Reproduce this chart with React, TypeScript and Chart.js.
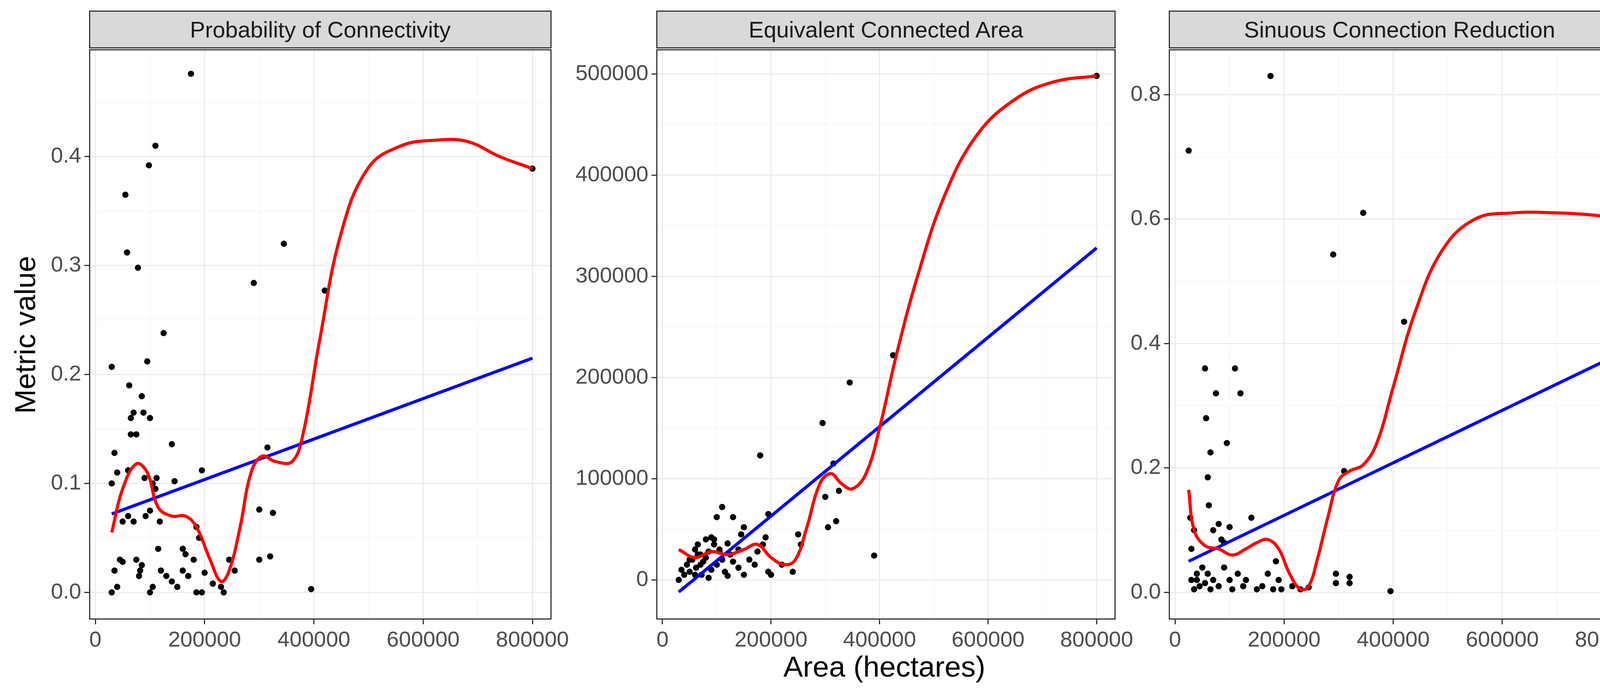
import React, { useRef, useEffect } from 'react'
import { Chart, registerables } from 'chart.js'

Chart.register(...registerables)

// areas in thousands of hectares
const pocX = [30, 35, 30, 40, 45, 35, 40, 30, 50, 55, 58, 60, 62, 65, 65, 70, 75, 78, 80, 82, 85, 88, 90, 92, 95, 98, 100, 100, 105, 110, 112, 115, 118, 125, 130, 140, 145, 150, 160, 165, 175, 180, 185, 190, 195, 185, 195, 200, 215, 230, 235, 245, 255, 290, 300, 300, 315, 320, 325, 345, 395, 420, 800, 60, 70, 75, 50, 120, 140, 100, 160, 170, 85, 105, 110]
const pocY = [0.207, 0.128, 0.1, 0.11, 0.03, 0.02, 0.005, 0, 0.028, 0.365, 0.312, 0.112, 0.19, 0.16, 0.145, 0.165, 0.145, 0.298, 0.015, 0.02, 0.18, 0.165, 0.105, 0.07, 0.212, 0.392, 0.16, 0.075, 0.005, 0.41, 0.105, 0.04, 0.065, 0.238, 0.015, 0.136, 0.102, 0.005, 0.04, 0.035, 0.476, 0.03, 0.06, 0.05, 0.112, 0, 0, 0.018, 0.008, 0.005, 0, 0.03, 0.02, 0.284, 0.076, 0.03, 0.133, 0.033, 0.073, 0.32, 0.003, 0.277, 0.389, 0.07, 0.065, 0.03, 0.065, 0.02, 0.01, 0, 0.02, 0.015, 0.025, 0.1, 0.095]
const pocSmoothX = [30, 50, 75, 95, 115, 140, 165, 185, 210, 230, 245, 265, 285, 305, 330, 360, 380, 410, 450, 500, 560, 620, 680, 740, 800]
const pocSmoothY = [0.055, 0.095, 0.118, 0.11, 0.078, 0.07, 0.07, 0.06, 0.03, 0.01, 0.02, 0.06, 0.11, 0.125, 0.12, 0.12, 0.145, 0.23, 0.33, 0.39, 0.41, 0.415, 0.414, 0.4, 0.389]
const pocLmX = [30, 800]
const pocLmY = [0.072, 0.215]

// equivalent connected area, thousands
const ecaX = [30, 35, 40, 45, 50, 55, 60, 62, 65, 70, 72, 75, 80, 85, 90, 95, 100, 105, 110, 115, 120, 125, 130, 140, 145, 150, 160, 170, 180, 185, 190, 195, 200, 220, 240, 250, 255, 295, 300, 305, 315, 320, 325, 345, 390, 425, 800, 110, 100, 130, 150, 195, 60, 70, 80, 90, 120, 140, 175, 50, 65, 85, 95, 105]
const ecaY = [0, 10, 5, 15, 8, 20, 30, 12, 35, 25, 5, 18, 40, 28, 10, 35, 15, 30, 20, 8, 36, 25, 18, 12, 45, 5, 20, 15, 123, 35, 42, 8, 5, 15, 8, 45, 35, 155, 82, 52, 115, 58, 88, 195, 24, 222, 498, 72, 62, 62, 52, 65, 5, 15, 22, 42, 4, 30, 28, 20, 25, 2, 40, 28]
const ecaSmoothX = [30, 60, 90, 120, 150, 175, 200, 225, 245, 265, 290, 310, 330, 350, 375, 400, 430, 470, 520, 580, 650, 720, 800]
const ecaSmoothY = [30, 22, 28, 25, 30, 35, 22, 15, 20, 50, 95, 105, 95, 90, 105, 150, 220, 300, 380, 440, 475, 492, 498]
const ecaLmX = [30, 800]
const ecaLmY = [-12, 328]

// sinuous connection reduction
const scrX = [25, 28, 30, 35, 40, 55, 57, 60, 62, 65, 70, 75, 80, 85, 90, 95, 100, 110, 120, 140, 175, 185, 290, 295, 310, 320, 345, 395, 420, 800, 30, 35, 40, 45, 50, 55, 60, 65, 70, 80, 90, 100, 105, 115, 125, 130, 150, 160, 170, 180, 190, 195, 215, 230, 245, 295, 320]
const scrY = [0.71, 0.12, 0.07, 0.1, 0.02, 0.36, 0.28, 0.185, 0.14, 0.225, 0.1, 0.32, 0.11, 0.085, 0.08, 0.24, 0.105, 0.36, 0.32, 0.12, 0.83, 0.05, 0.543, 0.03, 0.195, 0.025, 0.61, 0.002, 0.435, 0.605, 0.02, 0.005, 0.03, 0.01, 0.04, 0.015, 0.03, 0.005, 0.02, 0.01, 0.04, 0.02, 0.005, 0.03, 0.01, 0.02, 0.005, 0.01, 0.03, 0.005, 0.02, 0.005, 0.01, 0.005, 0.008, 0.015, 0.015]
const scrSmoothX = [25, 35, 55, 80, 105, 130, 150, 170, 190, 210, 230, 245, 260, 280, 300, 320, 345, 370, 400, 440, 490, 550, 620, 700, 760, 800]
const scrSmoothY = [0.165, 0.1, 0.075, 0.07, 0.06, 0.07, 0.08, 0.085, 0.07, 0.03, 0.005, 0.01, 0.05, 0.12, 0.18, 0.195, 0.205, 0.24, 0.33, 0.45, 0.55, 0.6, 0.61, 0.61, 0.607, 0.603]
const scrLmX = [25, 800]
const scrLmY = [0.05, 0.377]

const FONT = '"Liberation Sans", Arial, sans-serif'
const YW = 260
const XH = 110
const PAD_R = 160
const PAD_T = 40
const PLOT_TOP = 126
const PLOT_BOTTOM = 1586

const pts = (xs: number[], ys: number[], ys2 = 1) => xs.map((x, i) => ({ x: x * 1000, y: ys[i] * ys2 }))

type PanelProps = {
  title: string
  left: number
  right: number
  yMin: number
  yMax: number
  yStep: number
  decimals: number
  scatter: { x: number; y: number }[]
  smooth: { x: number; y: number }[]
  lm: { x: number; y: number }[]
}

const Panel = (p: PanelProps) => {
  const ref = useRef<HTMLCanvasElement>(null)
  const plotW = p.right - p.left
  const plotH = PLOT_BOTTOM - PLOT_TOP
  const cw = YW + plotW + PAD_R
  const ch = PAD_T + plotH + XH

  useEffect(() => {
    if (!ref.current) return
    const isMajor = (v: number, step: number) => Math.abs(v / step - Math.round(v / step)) < 1e-6
    const mkTicks = (min: number, max: number, step: number) => {
      const out: { value: number }[] = []
      const h = step / 2
      for (let v = Math.ceil(min / h) * h; v <= max + 1e-9; v += h) out.push({ value: Math.round(v * 1e6) / 1e6 })
      return out
    }
    const axis = (min: number, max: number, step: number, isX: boolean, dec: number) => ({
      type: 'linear' as const,
      min,
      max,
      afterBuildTicks: (s: any) => { s.ticks = mkTicks(min, max, step) },
      afterFit: (s: any) => { if (isX) s.height = XH; else s.width = YW },
      border: { display: false },
      grid: {
        color: (c: any) => (isMajor(c.tick.value, step) ? '#EBEBEB' : '#F4F4F4'),
        lineWidth: (c: any) => (isMajor(c.tick.value, step) ? 3 : 1.5),
        tickColor: (c: any) => (isMajor(c.tick.value, step) ? '#333333' : 'rgba(0,0,0,0)'),
        tickLength: 12,
        drawTicks: true,
      },
      ticks: {
        autoSkip: false,
        maxRotation: 0,
        padding: 8,
        color: '#4D4D4D',
        font: { family: FONT, size: 56 },
        callback: (v: any) => (isMajor(Number(v), step) ? Number(v).toFixed(dec) : ''),
      },
    })
    const chart = new Chart(ref.current, {
      type: 'scatter',
      data: {
        datasets: [
          { data: p.smooth, showLine: true, borderColor: '#FF0000', borderWidth: 8, pointRadius: 0, tension: 0.4, order: 1 },
          { data: p.lm, showLine: true, borderColor: '#0000FF', borderWidth: 8, pointRadius: 0, order: 2 },
          { data: p.scatter, backgroundColor: '#000000', borderWidth: 0, pointRadius: 8, order: 3 },
        ] as any,
      },
      options: {
        animation: false,
        responsive: false,
        devicePixelRatio: 1,
        layout: { padding: { top: PAD_T, right: PAD_R, left: 0, bottom: 0 } },
        plugins: { legend: { display: false }, tooltip: { enabled: false } },
        scales: {
          x: axis(-11500, 835000, 200000, true, 0),
          y: axis(p.yMin, p.yMax, p.yStep, false, p.decimals),
        },
      },
    })
    return () => chart.destroy()
  }, [])

  return (
    <>
      <canvas ref={ref} width={cw} height={ch} style={{ position: 'absolute', left: p.left - YW, top: PLOT_TOP - PAD_T, width: cw, height: ch }} />
      <div style={{ position: 'absolute', left: p.left, top: PLOT_TOP, width: plotW, height: plotH, border: '3px solid #333333', boxSizing: 'border-box', pointerEvents: 'none' }} />
      <div style={{ position: 'absolute', left: p.left, top: 27, width: plotW, height: 97, background: '#D9D9D9', border: '3px solid #333333', boxSizing: 'border-box', display: 'flex', alignItems: 'center', justifyContent: 'center', fontFamily: FONT, fontSize: 58, color: '#1A1A1A' }}>
        {p.title}
      </div>
    </>
  )
}

export default function App() {
  useEffect(() => { document.body.style.margin = '0' }, [])
  return (
    <div style={{ position: 'relative', width: 4200, height: 1779, background: '#FFFFFF', overflow: 'hidden' }}>
      <Panel title="Probability of Connectivity" left={228} right={1412} yMin={-0.025} yMax={0.498} yStep={0.1} decimals={1}
        scatter={pts(pocX, pocY)} smooth={pts(pocSmoothX, pocSmoothY)} lm={pts(pocLmX, pocLmY)} />
      <Panel title="Equivalent Connected Area" left={1680} right={2856} yMin={-39256} yMax={523760} yStep={100000} decimals={0}
        scatter={pts(ecaX, ecaY, 1000)} smooth={pts(ecaSmoothX, ecaSmoothY, 1000)} lm={pts(ecaLmX, ecaLmY, 1000)} />
      <Panel title="Sinuous Connection Reduction" left={2992} right={4174} yMin={-0.0437} yMax={0.872} yStep={0.2} decimals={1}
        scatter={pts(scrX, scrY)} smooth={pts(scrSmoothX, scrSmoothY)} lm={pts(scrLmX, scrLmY)} />
      <div style={{ position: 'absolute', left: 64, top: 857, transform: 'translate(-50%, -50%) rotate(-90deg)', fontFamily: FONT, fontSize: 75, whiteSpace: 'nowrap' }}>
        Metric value
      </div>
      <div style={{ position: 'absolute', left: 2264, top: 1706, transform: 'translate(-50%, -50%)', fontFamily: FONT, fontSize: 75, whiteSpace: 'nowrap' }}>
        Area (hectares)
      </div>
    </div>
  )
}
